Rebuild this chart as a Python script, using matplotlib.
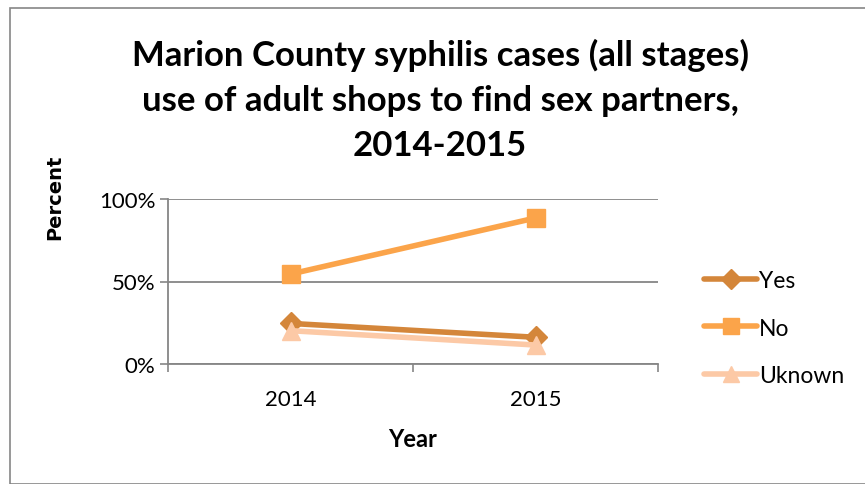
import matplotlib
matplotlib.use('Agg')
import matplotlib.pyplot as plt
from matplotlib.patches import Rectangle

# data
years = ['2014', '2015']
yes_pct = [24.6, 16.2]
no_pct = [54.5, 88.5]
unknown_pct = [20.2, 11.5]

series = [
    ('Yes', yes_pct, '#D4863A', 'D', 11),
    ('No', no_pct, '#FBA44A', 's', 13),
    ('Uknown', unknown_pct, '#FCC9A6', '^', 13),
]

plt.rcParams['font.family'] = ['Lato', 'DejaVu Sans']

fig = plt.figure(figsize=(8.65, 4.85), dpi=100)
fig.patches.append(Rectangle((10 / 865, 0), 2, 1 - 9 / 485, transform=fig.transFigure,
                             fill=False, edgecolor='#868686', linewidth=1.2))

ax = fig.add_axes([168 / 865, 1 - 365 / 485, 490 / 865, 165 / 485])
xpos = [0.5, 1.5]
for name, vals, col, mk, ms in series:
    ax.plot(xpos, vals, color=col, linewidth=4, marker=mk, markersize=ms,
            markeredgecolor=col, label=name, solid_capstyle='round')

ax.set_xlim(0, 2)
ax.set_ylim(0, 100)
ax.set_yticks([0, 50, 100])
ax.set_yticklabels(['0%', '50%', '100%'])
ax.set_xticks([0, 1, 2])
ax.set_xticklabels([])
ax.set_xticks(xpos, minor=True)
ax.set_xticklabels(years, minor=True)
ax.tick_params(axis='x', which='minor', length=0, pad=18, labelsize=16)
ax.tick_params(axis='x', which='major', length=6, width=1.2, color='#868686', direction='out')
ax.tick_params(axis='y', length=6, width=1.2, color='#868686', labelsize=16, pad=3)
ax.grid(axis='y', color='#868686', linewidth=1.3)
ax.set_axisbelow(True)
for s in ['top', 'right']:
    ax.spines[s].set_visible(False)
for s in ['left', 'bottom']:
    ax.spines[s].set_color('#868686')
    ax.spines[s].set_linewidth(1.3)

fig.text(440 / 865, 1 - 100 / 485,
         'Marion County syphilis cases (all stages)\nuse of adult shops to find sex partners,\n2014-2015',
         ha='center', va='center', fontsize=25, fontweight='bold', linespacing=1.5)
fig.text(413 / 865, 1 - 440 / 485, 'Year', ha='center', va='center', fontsize=17, fontweight='bold')
fig.text(55 / 865, 1 - 197 / 485, 'Percent', ha='center', va='center', rotation=90,
         fontsize=14, fontweight='bold', family='DejaVu Sans')

ax.legend(loc='center left', bbox_to_anchor=(695 / 865, 1 - 329 / 485), bbox_transform=fig.transFigure,
          frameon=False, fontsize=16.5, handlelength=2.3, handletextpad=0.1, labelspacing=1.15,
          borderaxespad=0, markerscale=0.9)

fig.savefig('out.png', dpi=100)
